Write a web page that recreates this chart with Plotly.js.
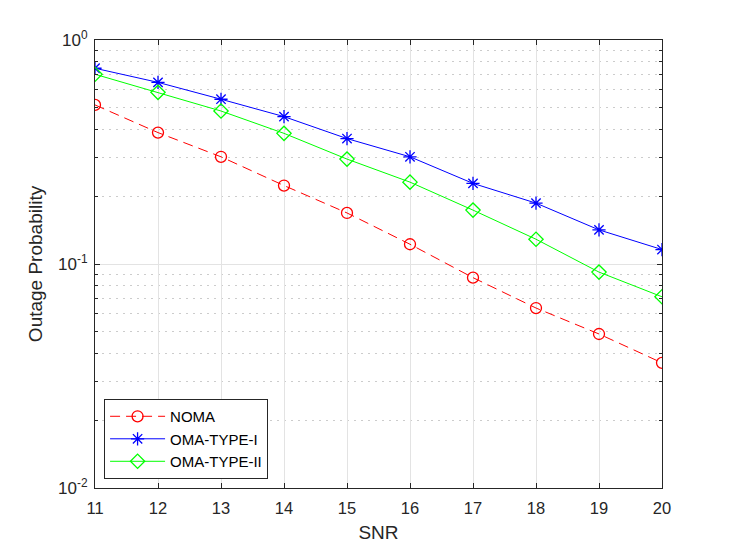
<!DOCTYPE html>
<html>
<head>
<meta charset="utf-8">
<script src="https://cdn.plot.ly/plotly-3.0.1.min.js"></script>
<style>
  html, body { margin: 0; padding: 0; background: #fff; }
  #plot { width: 731px; height: 548px; }
</style>
</head>
<body>
<div id="plot"></div>
<script>
// SNR values on the x axis
const snr = [11, 12, 13, 14, 15, 16, 17, 18, 19, 20];

// outage probability
const noma = [0.513, 0.386, 0.301, 0.224, 0.169, 0.1225, 0.0869, 0.0636, 0.0487, 0.0362];
const omaTypeI = [0.748, 0.647, 0.544, 0.455, 0.363, 0.301, 0.229, 0.187, 0.142, 0.116];
const omaTypeII = [0.703, 0.584, 0.482, 0.383, 0.294, 0.232, 0.174, 0.129, 0.092, 0.0714];

const yMajor = [0.01, 0.1, 1];
const yMajorText = ['10<sup>-2</sup>', '10<sup>-1</sup>', '10<sup>0</sup>'];
const yMinor = [0.02, 0.03, 0.04, 0.05, 0.06, 0.07, 0.08, 0.09,
                0.2, 0.3, 0.4, 0.5, 0.6, 0.7, 0.8, 0.9];

const fontFamily = 'Liberation Sans, Arial, sans-serif';

function makeTrace(y, name, color, symbol, dash) {
    return {
        x: snr,
        y: y,
        name: name,
        type: 'scatter',
        mode: 'lines+markers',
        line: { color: color, width: 1, dash: dash },
        marker: { symbol: symbol, size: 11, color: color, line: { color: color, width: 1.3 } }
    };
}

function font(size, color) {
    return { family: fontFamily, size: size, color: color || '#262626' };
}

const traces = [
    makeTrace(noma, 'NOMA', '#ff0000', 'circle-open', '10px,6px'),
    makeTrace(omaTypeI, 'OMA-TYPE-I', '#0000ff', 'asterisk-open', 'solid'),
    makeTrace(omaTypeII, 'OMA-TYPE-II', '#00ff00', 'diamond-open', 'solid')
];

const layout = {
    width: 731,
    height: 548,
    margin: { l: 95, r: 69, t: 40, b: 60 },
    paper_bgcolor: '#ffffff',
    plot_bgcolor: '#ffffff',
    font: font(16),
    showlegend: true,
    legend: {
        x: 0.016, y: 0.02, xanchor: 'left', yanchor: 'bottom',
        bgcolor: '#ffffff', bordercolor: '#262626', borderwidth: 1,
        font: font(15, '#000000'),
        itemwidth: 55, tracegroupgap: 0
    },
    xaxis: {
        range: [11, 20],
        tickvals: snr,
        ticks: 'inside', ticklen: 5, tickcolor: '#262626',
        ticklabelstandoff: 5,
        showline: true, linecolor: '#262626', linewidth: 1, mirror: 'allticks',
        showgrid: true, gridcolor: '#e3e3e3', gridwidth: 1,
        zeroline: false,
        tickfont: font(16.5),
        title: { text: 'SNR', font: font(19), standoff: 9 }
    },
    yaxis: {
        type: 'log',
        range: [-2, 0],
        tickvals: yMajor,
        ticktext: yMajorText,
        ticks: 'inside', ticklen: 5, tickcolor: '#262626',
        ticklabelstandoff: 3,
        showline: true, linecolor: '#262626', linewidth: 1, mirror: 'allticks',
        showgrid: true, gridcolor: '#e3e3e3', gridwidth: 1,
        zeroline: false,
        tickfont: font(17),
        minor: {
            tickvals: yMinor,
            ticks: 'inside', ticklen: 3, tickcolor: '#262626',
            showgrid: true, gridcolor: '#cccccc', griddash: '2px,5px', gridwidth: 1
        },
        title: { text: 'Outage Probability', font: font(19), standoff: 10 }
    }
};

Plotly.newPlot('plot', traces, layout, { displayModeBar: false, staticPlot: true });
</script>
</body>
</html>
